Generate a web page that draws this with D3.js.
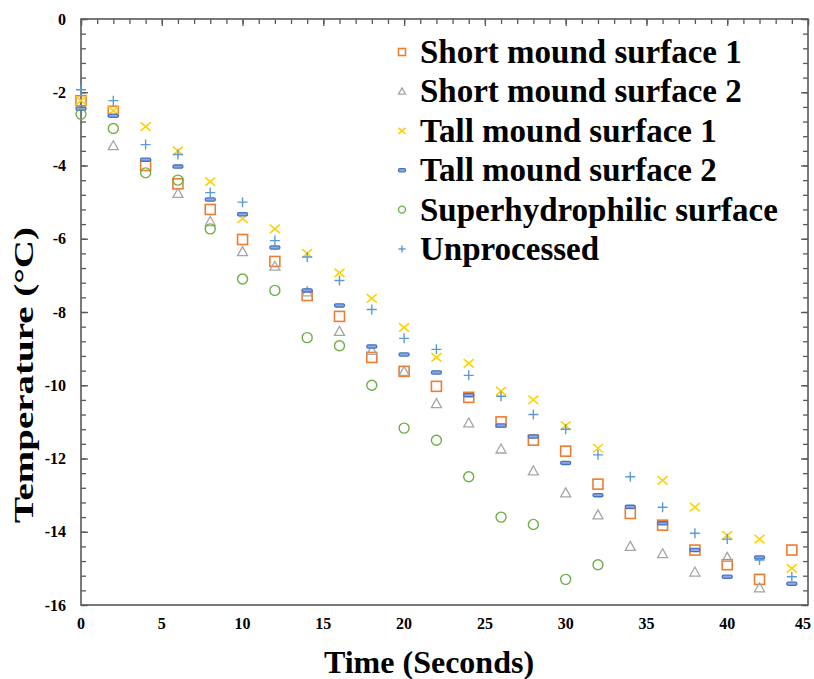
<!DOCTYPE html>
<html>
<head>
<meta charset="utf-8">
<script src="https://cdn.jsdelivr.net/npm/d3@7"></script>
<style>
  body { margin: 0; background: #fff; }
  svg { display: block; }
  text { font-family: "Liberation Serif", "Times New Roman", serif; font-weight: bold; fill: #000; }
</style>
</head>
<body>
<svg id="chart" width="814" height="679"></svg>
<script>
// time (s)
const times = [0, 2, 4, 6, 8, 10, 12, 14, 16, 18, 20, 22, 24, 26, 28, 30, 32, 34, 36, 38, 40, 42, 44]

// temperatures (°C)
const shortMound1 = [-2.23, -2.52, -4.0, -4.5, -5.2, -6.02, -6.62, -7.55, -8.12, -9.24, -9.62, -10.03, -10.33, -11.0, -11.5, -11.8, -12.7, -13.5, -13.82, -14.5, -14.9, -15.3, -14.5]
const shortMound2 = [null, -3.46, null, -4.76, -5.53, -6.35, -6.75, -7.45, -8.53, -9.05, -9.62, -10.5, -11.03, -11.74, -12.34, -12.94, -13.54, -14.4, -14.6, -15.1, -14.7, -15.53, null]
const tallMound1 = [-2.23, -2.5, -2.94, -3.6, -4.44, -5.45, -5.73, -6.4, -6.93, -7.63, -8.42, -9.24, -9.4, -10.16, -10.4, -11.1, -11.72, null, -12.6, -13.33, -14.1, -14.2, -15.0]
const tallMound2 = [-2.45, -2.64, -3.84, -4.03, -4.93, -5.33, -6.24, -7.41, -7.82, -8.94, -9.16, -9.65, -10.27, -11.1, -11.4, -12.12, -13.0, -13.32, -13.77, -14.5, -15.23, -14.7, -15.42]
const superhydrophilic = [-2.6, -2.99, -4.2, -4.4, -5.73, -7.1, -7.41, -8.7, -8.92, -10.0, -11.17, -11.5, -12.5, -13.6, -13.8, -15.3, -14.9, null, null, null, null, null, null]
const unprocessed = [-1.93, -2.23, -3.43, -3.7, -4.74, -5.0, -6.05, -6.5, -7.14, -7.93, -8.72, -9.02, -9.73, -10.3, -10.8, -11.2, -11.9, -12.5, -13.33, -14.04, -14.2, -14.77, -15.23]

const seriesNames = ["Short mound surface 1", "Short mound surface 2", "Tall mound surface 1", "Tall mound surface 2", "Superhydrophilic surface", "Unprocessed"]
const seriesValues = [shortMound1, shortMound2, tallMound1, tallMound2, superhydrophilic, unprocessed]
const seriesColors = ["#ED7D31", "#A5A5A5", "#FFD200", "#4472C4", "#70AD47", "#5B9BD5"]
const seriesShapes = ["square", "triangle", "x", "bar", "circle", "plus"]

const xTicks = [0, 5, 10, 15, 20, 25, 30, 35, 40, 45]
const yTicks = [0, -2, -4, -6, -8, -10, -12, -14, -16]

const svg = d3.select("#chart")
const plotLeft = 81, plotRight = 808, plotTop = 19, plotBottom = 605

const x = d3.scaleLinear().domain([0, 45]).range([plotLeft, plotRight])
const y = d3.scaleLinear().domain([-16, 0]).range([plotBottom, plotTop])

const axisColor = "#595959"

// minor + major ticks, inside the frame
const yMinor = d3.range(0, 41).map(i => -i * 0.4)
const xMinor = d3.range(0, 46)

svg.append("g").attr("transform", `translate(${plotLeft},0)`)
  .call(d3.axisRight(y).tickValues(yMinor).tickSize(5).tickFormat(""))
svg.append("g").attr("transform", `translate(${plotLeft},0)`)
  .call(d3.axisRight(y).tickValues(yTicks).tickSize(7).tickFormat(""))
svg.append("g").attr("transform", `translate(${plotRight},0)`)
  .call(d3.axisLeft(y).tickValues(yMinor).tickSize(5).tickFormat(""))
svg.append("g").attr("transform", `translate(${plotRight},0)`)
  .call(d3.axisLeft(y).tickValues(yTicks).tickSize(7).tickFormat(""))
svg.append("g").attr("transform", `translate(0,${plotTop})`)
  .call(d3.axisBottom(x).tickValues(xMinor).tickSize(5).tickFormat(""))
svg.append("g").attr("transform", `translate(0,${plotTop})`)
  .call(d3.axisBottom(x).tickValues(xTicks).tickSize(7).tickFormat(""))

svg.selectAll(".domain").remove()
svg.selectAll(".tick line").attr("stroke", axisColor).attr("stroke-width", 1.3)

svg.append("rect")
  .attr("x", plotLeft).attr("y", plotTop)
  .attr("width", plotRight - plotLeft).attr("height", plotBottom - plotTop)
  .attr("fill", "none").attr("stroke", axisColor).attr("stroke-width", 1.6)

// tick labels
svg.append("g").selectAll("text")
  .data(xTicks).enter().append("text")
    .attr("x", d => Math.min(x(d), 803))
    .attr("y", 629)
    .attr("text-anchor", "middle")
    .attr("font-size", 16)
    .text(d => d)

svg.append("g").selectAll("text")
  .data(yTicks).enter().append("text")
    .attr("x", 66)
    .attr("y", d => y(d))
    .attr("dy", "0.35em")
    .attr("text-anchor", "end")
    .attr("font-size", 16)
    .text(d => d)

// axis titles
svg.append("text")
  .attr("x", 429).attr("y", 673)
  .attr("text-anchor", "middle")
  .attr("font-size", 32)
  .text("Time (Seconds)")

svg.append("text")
  .attr("transform", "translate(33,375) rotate(-90)")
  .attr("text-anchor", "middle")
  .attr("font-size", 27)
  .attr("textLength", 296)
  .attr("lengthAdjust", "spacingAndGlyphs")
  .text("Temperature (\u00B0C)")

function drawMarker(g, shape, color, s) {
  const h = s / 2
  if (shape === "square") {
    g.append("rect").attr("x", -h).attr("y", -h).attr("width", s).attr("height", s)
      .attr("fill", "none").attr("stroke", color).attr("stroke-width", 1.6)
  } else if (shape === "triangle") {
    g.append("path").attr("d", `M0,${-h}L${h},${h * 0.8}L${-h},${h * 0.8}Z`)
      .attr("fill", "none").attr("stroke", color).attr("stroke-width", 1.3)
  } else if (shape === "x") {
    g.append("path").attr("d", `M${-h},${-h * 0.85}L${h},${h * 0.85}M${-h},${h * 0.85}L${h},${-h * 0.85}`)
      .attr("stroke", color).attr("stroke-width", 1.6)
  } else if (shape === "bar") {
    g.append("rect").attr("x", -h).attr("y", -1.6).attr("width", s).attr("height", 3.2)
      .attr("rx", 1.4).attr("fill", "#8FAADC").attr("stroke", color).attr("stroke-width", 1.3)
  } else if (shape === "circle") {
    g.append("circle").attr("r", h)
      .attr("fill", "none").attr("stroke", color).attr("stroke-width", 1.4)
  } else if (shape === "plus") {
    g.append("path").attr("d", `M${-h},0L${h},0M0,${-h}L0,${h}`)
      .attr("stroke", color).attr("stroke-width", 1.4)
  }
}

// points, drawn in series order so later series sit on top
seriesValues.forEach((vals, si) => {
  const pts = times.map((t, i) => ({ t: t, v: vals[i] })).filter(d => d.v !== null)
  const grp = svg.append("g")
  pts.forEach(d => {
    const m = grp.append("g").attr("transform", `translate(${x(d.t)},${y(d.v)})`)
    drawMarker(m, seriesShapes[si], seriesColors[si], 10)
  })
})

// legend
const legend = svg.append("g")
seriesNames.forEach((name, i) => {
  const cy = 52 + i * 39.4
  const m = legend.append("g").attr("transform", `translate(402,${cy})`)
  drawMarker(m, seriesShapes[i], seriesColors[i], 7)
  legend.append("text")
    .attr("x", 420).attr("y", cy + 11)
    .attr("font-size", 33)
    .text(name)
})
</script>
</body>
</html>
